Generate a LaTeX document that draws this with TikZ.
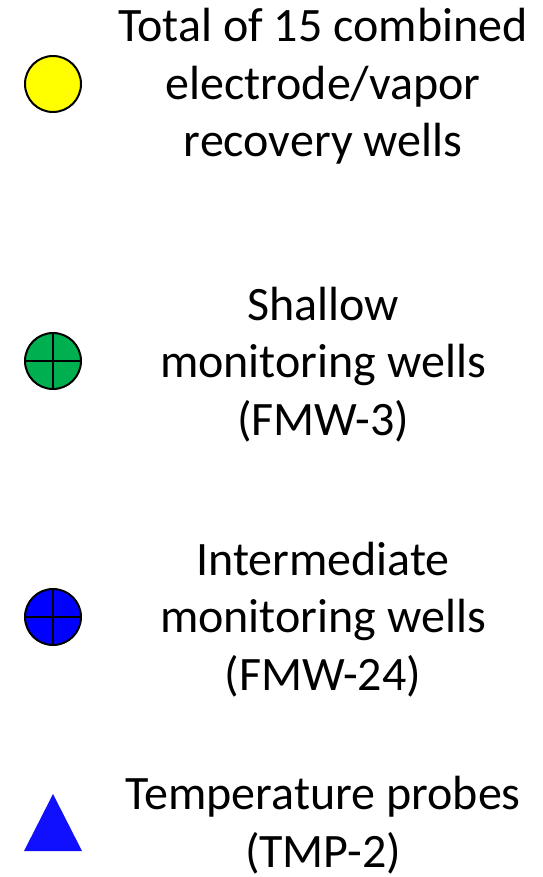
\documentclass[tikz,border=0pt]{standalone}
\usepackage{fontspec}
\setmainfont{Carlito}
\definecolor{wellyellow}{HTML}{FFFF00}
\definecolor{wellgreen}{HTML}{00B050}
\definecolor{wellblue}{HTML}{0000FF}
\definecolor{probeblue}{HTML}{1010FF}
\begin{document}
\begin{tikzpicture}[x=1pt,y=-1pt,
  % base anchor sits on the baseline of the last line
  legendtext/.style={align=center,font=\fontsize{48}{57.5}\selectfont,inner sep=0pt,anchor=base},
  wellsym/.style={circle,draw=black,line width=2pt,minimum size=56pt,inner sep=0pt}]
\useasboundingbox (0,0) rectangle (542,877);
% yellow electrode / vapor recovery well
\node[wellsym,fill=wellyellow] (w1) at (53,84) {};
\node[legendtext] (t1) at (323,157) {Total of 15 combined\\electrode/vapor\\recovery wells};
% shallow monitoring well
\node[wellsym,fill=wellgreen] (w2) at (53,361) {};
\draw[line width=2pt] (w2.north) -- (w2.south) (w2.west) -- (w2.east);
\node[legendtext] (t2) at (323,435) {Shallow\\monitoring wells\\(FMW-3)};
% intermediate monitoring well
\node[wellsym,fill=wellblue] (w3) at (53,617) {};
\draw[line width=2pt] (w3.north) -- (w3.south) (w3.west) -- (w3.east);
\node[legendtext] (t3) at (323,690) {Intermediate\\monitoring wells\\(FMW-24)};
% temperature probe
\coordinate (pa) at (53,794);
\coordinate (pl) at (24,851);
\coordinate (pr) at (82,851);
\fill[probeblue] (pa) -- (pl) -- (pr) -- cycle;
\node[legendtext] (t4) at (323,867) {Temperature probes\\(TMP-2)};
\end{tikzpicture}
\end{document}
